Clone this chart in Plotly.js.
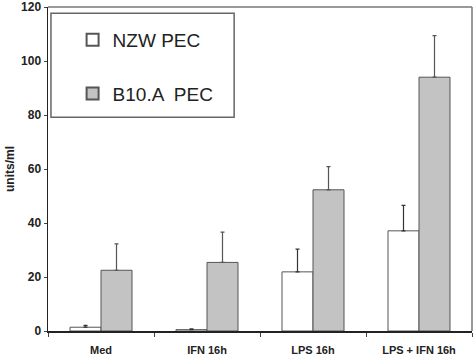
<!DOCTYPE html>
<html><head><meta charset="utf-8">
<script src="https://cdn.plot.ly/plotly-3.0.1.min.js"></script>
<style>html,body{margin:0;padding:0;background:#fff}</style>
</head><body><div id="chart" style="width:474px;height:358px"></div>
<script>
const categories = ["Med", "IFN 16h", "LPS 16h", "LPS + IFN 16h"];
const nzwValues = [1.4, 0.5, 21.9, 37.1];
const nzwErrors = [0.7, 0.3, 8.4, 9.4];
const b10Values = [22.5, 25.4, 52.3, 94.0];
const b10Errors = [9.8, 11.2, 8.6, 15.4];
const seriesNames = ["NZW PEC", "B10.A  PEC"];
const yTicks = [0, 20, 40, 60, 80, 100, 120];

const traces = [
  {type:"bar", name:seriesNames[0], x:categories, y:nzwValues,
   marker:{color:"#ffffff", line:{color:"#555555", width:1}},
   error_y:{type:"data", symmetric:false, array:nzwErrors, arrayminus:[0,0,0,0], color:"#333333", thickness:1.2, width:2},
   legendgroup:"a"},
  {type:"bar", name:seriesNames[1], x:categories, y:b10Values,
   marker:{color:"#c3c3c3", line:{color:"#555555", width:1}},
   error_y:{type:"data", symmetric:false, array:b10Errors, arrayminus:[0,0,0,0], color:"#555555", thickness:1.2, width:2},
   legendgroup:"b"}
];

const layout = {
  width:474, height:358,
  margin:{l:48, r:2, t:7, b:27},
  paper_bgcolor:"#fff", plot_bgcolor:"#fff",
  barmode:"group", bargap:0.415, bargroupgap:0,
  font:{family:"Liberation Sans, Arial, sans-serif", color:"#111"},
  showlegend:true,
  legend:{x:0.058, y:0.957, xanchor:"left", yanchor:"top", bgcolor:"rgba(0,0,0,0)",
          font:{size:19, color:"#222"}, traceorder:"grouped", tracegroupgap:26,
          itemsizing:"constant"},
  xaxis:{type:"category", showline:true, linecolor:"#222", linewidth:1.5,
         ticks:"outside", tickson:"boundaries", ticklen:4, tickcolor:"#444",
         ticklabelstandoff:8,
         tickfont:{size:11, family:"Liberation Sans, Arial, sans-serif", weight:"bold", color:"#222"},
         showgrid:false, zeroline:false, fixedrange:true},
  yaxis:{range:[0,120], tickvals:yTicks, ticktext:yTicks.map(String),
         showline:true, linecolor:"#222", linewidth:1.5, ticks:"outside", ticklen:3, tickcolor:"#444",
         tickfont:{size:12, family:"Liberation Sans, Arial, sans-serif", weight:"bold", color:"#222"},
         showgrid:false, zeroline:false,
         title:{text:"units/ml", font:{size:12, weight:"bold", color:"#222"}, standoff:4}},
  shapes:[
    {type:"line", xref:"paper", yref:"paper", x0:0, x1:1, y0:1, y1:1, line:{color:"#777", width:1.5}},
    {type:"line", xref:"paper", yref:"paper", x0:1, x1:1, y0:0, y1:1, line:{color:"#777", width:1.5}},
    {type:"rect", xref:"paper", yref:"paper", x0:0.007, x1:0.439, y0:0.66, y1:0.981, line:{color:"#666", width:1.5}, fillcolor:"rgba(0,0,0,0)"}
  ]
};
Plotly.newPlot("chart", traces, layout, {displayModeBar:false, staticPlot:true});
</script></body></html>
